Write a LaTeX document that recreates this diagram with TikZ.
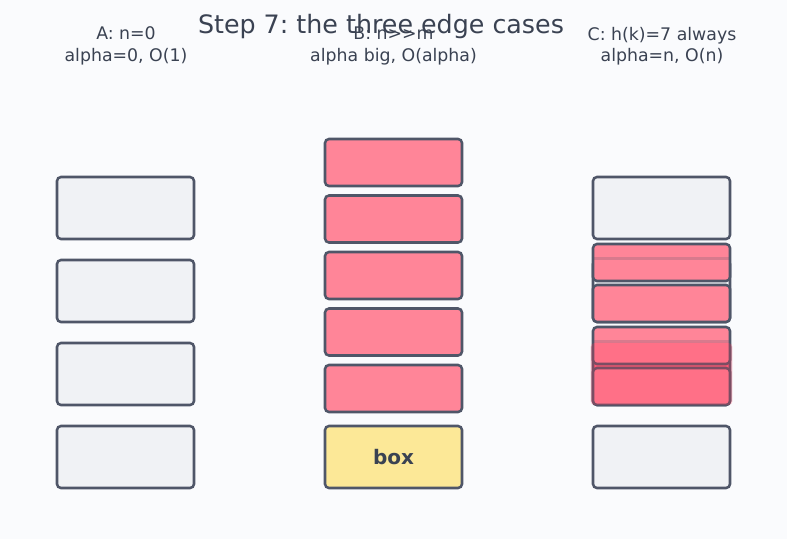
\documentclass[tikz,border=0pt]{standalone}
\usepackage{fontspec}
\setmainfont{DejaVu Sans}[Ligatures=TeXOff]
\definecolor{bg}{HTML}{FAFBFD}
\definecolor{edge}{HTML}{4F5668}
\definecolor{txt}{HTML}{3A4252}
\definecolor{grayfill}{HTML}{F0F2F5}
\definecolor{redfill}{HTML}{FF8598}
\definecolor{yelfill}{HTML}{FCE897}
\definecolor{darkred}{HTML}{FF3355}
\begin{document}
\frenchspacing
\begin{tikzpicture}[x=0.75pt,y=-0.75pt,
  slotbox/.style={draw=edge,line width=1.9pt,rounded corners=3pt,fill=grayfill,minimum width=102.75pt,minimum height=46.5pt,inner sep=0pt},
  redbox/.style={draw=edge,line width=1.9pt,rounded corners=3pt,fill=redfill,minimum width=102.75pt,minimum height=35.25pt,inner sep=0pt},
  credbox/.style={draw=edge,line width=1.9pt,rounded corners=3pt,fill=redfill,minimum width=102.75pt,minimum height=27.75pt,inner sep=0pt},
  yelbox/.style={draw=edge,line width=1.9pt,rounded corners=3pt,fill=yelfill,minimum width=102.75pt,minimum height=46.5pt,inner sep=0pt,font=\bfseries\fontsize{15}{18}\selectfont,text=txt},
  lab/.style={text=txt,font=\fontsize{13}{16}\selectfont,align=center,inner sep=0pt},
  ttl/.style={text=txt,font=\fontsize{19}{22}\selectfont,inner sep=0pt},
  ghost/.style={draw=edge,draw opacity=0.22,line width=1.9pt}]
\fill[bg] (0,0) rectangle (787,539);
\useasboundingbox (0,0) rectangle (787,539);
% labels
\node[lab] (la) at (126,46) {A: n=0\\[0pt]alpha=0, O(1)};
\node[lab] (lb) at (393.5,46) {B: n>>m\\[0pt]alpha big, O(alpha)};
\node[lab] (lc) at (662,46) {C: h(k)=7 always\\[0pt]alpha=n, O(n)};
\node[ttl] (title) at (381,27) {Step 7: the three edge cases};
% column A
\node[slotbox] (a1) at (125.5,208) {};
\node[slotbox] (a2) at (125.5,291) {};
\node[slotbox] (a3) at (125.5,374) {};
\node[slotbox] (a4) at (125.5,457) {};
% column B
\node[redbox] (b1) at (393.5,162.5) {};
\node[redbox] (b2) at (393.5,219) {};
\node[redbox] (b3) at (393.5,275.5) {};
\node[redbox] (b4) at (393.5,332) {};
\node[redbox] (b5) at (393.5,388.5) {};
\node[yelbox] (b6) at (393.5,457) {box};
% column C
\node[slotbox] (c1) at (661.5,208) {};
\node[slotbox] (c2) at (661.5,291) {};
\node[slotbox,fill=redfill!60!darkred] (c3) at (661.5,374) {};
\node[slotbox] (c4) at (661.5,457) {};
\node[credbox] (r1) at (661.5,262.5) {};
\node[credbox] (r2) at (661.5,303.5) {};
\node[credbox] (r3) at (661.5,345.5) {};
\node[credbox] (r4) at (661.5,386.5) {};
% underlying slot edges showing through
\draw[ghost] (c2.north west) -- (c2.north east);
\draw[ghost] (c3.north west) -- (c3.north east);
\fill[darkred,fill opacity=0.25,rounded corners=3pt] ([xshift=-0.9pt,yshift=-0.9pt]c3.north west) rectangle ([xshift=0.9pt,yshift=0.9pt]c3.south east);
\end{tikzpicture}
\end{document}
